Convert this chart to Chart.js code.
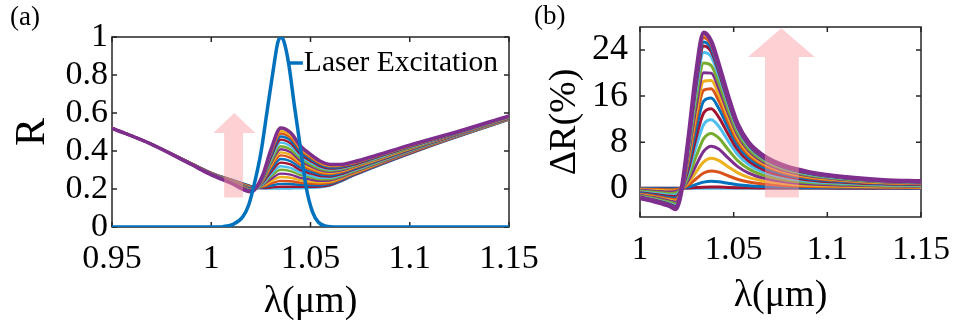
<!DOCTYPE html>
<html>
<head>
<meta charset="utf-8">
<script src="https://cdn.jsdelivr.net/npm/chart.js@4.4.1/dist/chart.umd.min.js"></script>
<style>
  html, body { margin: 0; padding: 0; background: #fff; }
  body { width: 956px; height: 327px; position: relative; overflow: hidden; font-family: 'Liberation Serif', 'Times New Roman', serif; }
  #chartA { position: absolute; left: 0; top: 0; }
  #chartB { position: absolute; left: 530px; top: 0; }
  .tag { position: absolute; font-size: 27px; color: #000; line-height: 1; }
</style>
</head>
<body>
<canvas id="chartA" width="560" height="327"></canvas>
<canvas id="chartB" width="426" height="327"></canvas>
<div class="tag" style="left:10px; top:3px;">(a)</div>
<div class="tag" style="left:534px; top:2px;">(b)</div>
<script>
// --- Panel (a): reflectance spectra ---
const wlA = [0.95, 0.97, 0.99, 1.0, 1.01, 1.02, 1.0225, 1.026, 1.03, 1.035, 1.04, 1.045, 1.05, 1.055, 1.06, 1.065, 1.07, 1.08, 1.10, 1.12, 1.15];
const reflA = [
    [0.52,0.435,0.335,0.285,0.25,0.215,0.205,0.203,0.202,0.202,0.203,0.204,0.206,0.209,0.218,0.238,0.263,0.305,0.385,0.46,0.565],
    [0.52,0.435,0.335,0.285,0.249,0.214,0.205,0.205,0.208,0.212,0.212,0.211,0.211,0.213,0.221,0.241,0.265,0.307,0.386,0.461,0.566],
    [0.52,0.435,0.334,0.284,0.248,0.213,0.205,0.209,0.218,0.227,0.226,0.222,0.22,0.22,0.227,0.245,0.269,0.31,0.389,0.462,0.567],
    [0.52,0.435,0.334,0.284,0.247,0.211,0.205,0.212,0.228,0.243,0.241,0.233,0.229,0.227,0.232,0.25,0.273,0.313,0.391,0.464,0.568],
    [0.52,0.435,0.334,0.283,0.246,0.209,0.205,0.217,0.24,0.263,0.259,0.246,0.239,0.235,0.239,0.255,0.277,0.317,0.394,0.466,0.569],
    [0.52,0.435,0.333,0.283,0.245,0.208,0.205,0.221,0.252,0.281,0.276,0.259,0.25,0.243,0.246,0.261,0.282,0.32,0.396,0.467,0.57],
    [0.52,0.435,0.333,0.282,0.244,0.206,0.205,0.225,0.265,0.301,0.294,0.273,0.261,0.251,0.252,0.266,0.286,0.324,0.399,0.469,0.571],
    [0.52,0.435,0.333,0.281,0.243,0.204,0.205,0.229,0.276,0.32,0.311,0.286,0.271,0.259,0.259,0.272,0.291,0.328,0.402,0.471,0.572],
    [0.52,0.435,0.332,0.281,0.242,0.202,0.205,0.234,0.289,0.339,0.329,0.299,0.282,0.268,0.266,0.277,0.295,0.332,0.405,0.473,0.573],
    [0.52,0.435,0.332,0.28,0.24,0.201,0.205,0.238,0.301,0.358,0.346,0.312,0.292,0.276,0.272,0.283,0.3,0.335,0.407,0.474,0.575],
    [0.52,0.435,0.331,0.28,0.239,0.199,0.205,0.242,0.313,0.377,0.364,0.326,0.303,0.284,0.279,0.288,0.304,0.339,0.41,0.476,0.576],
    [0.52,0.435,0.331,0.279,0.238,0.197,0.205,0.246,0.323,0.393,0.379,0.337,0.311,0.291,0.284,0.293,0.308,0.342,0.412,0.478,0.577],
    [0.52,0.435,0.331,0.279,0.237,0.196,0.205,0.249,0.333,0.409,0.393,0.347,0.32,0.298,0.29,0.297,0.312,0.345,0.415,0.479,0.578],
    [0.52,0.435,0.33,0.278,0.236,0.194,0.205,0.253,0.343,0.425,0.408,0.359,0.329,0.305,0.296,0.302,0.315,0.348,0.417,0.481,0.579],
    [0.52,0.435,0.33,0.278,0.235,0.193,0.205,0.257,0.355,0.444,0.425,0.372,0.339,0.313,0.302,0.307,0.32,0.352,0.42,0.482,0.58],
    [0.52,0.435,0.33,0.277,0.234,0.191,0.205,0.261,0.365,0.46,0.44,0.383,0.348,0.319,0.307,0.312,0.323,0.355,0.422,0.484,0.581],
    [0.52,0.435,0.329,0.277,0.233,0.19,0.205,0.265,0.376,0.476,0.455,0.394,0.357,0.327,0.313,0.316,0.327,0.358,0.424,0.485,0.582],
    [0.52,0.435,0.329,0.276,0.232,0.188,0.205,0.268,0.386,0.492,0.469,0.405,0.366,0.333,0.319,0.321,0.331,0.361,0.426,0.487,0.583],
    [0.52,0.435,0.329,0.276,0.231,0.187,0.205,0.271,0.394,0.505,0.481,0.414,0.373,0.339,0.323,0.325,0.334,0.364,0.428,0.488,0.584],
    [0.52,0.435,0.329,0.275,0.231,0.186,0.205,0.275,0.404,0.521,0.496,0.425,0.382,0.346,0.329,0.329,0.338,0.367,0.431,0.489,0.585]
];
const laserWl = [0.95, 1.0, 1.006, 1.011, 1.016, 1.019, 1.022, 1.025, 1.028, 1.031, 1.0335, 1.035, 1.0365, 1.039, 1.042, 1.045, 1.048, 1.051, 1.054, 1.058, 1.062, 1.1, 1.15];
const laserI = [0, 0, 0.002, 0.014, 0.055, 0.12, 0.24, 0.39, 0.6, 0.81, 0.97, 1.0, 0.98, 0.86, 0.63, 0.41, 0.2, 0.08, 0.025, 0.004, 0, 0, 0];
const ticksAX = [0.95, 1, 1.05, 1.1, 1.15];
const ticksAY = [0, 0.2, 0.4, 0.6, 0.8, 1];

// --- Panel (b): differential reflectance (%) ---
const wlB = [1.0, 1.008, 1.016, 1.019, 1.0225, 1.026, 1.03, 1.034, 1.038, 1.042, 1.047, 1.052, 1.058, 1.066, 1.076, 1.09, 1.11, 1.13, 1.15];
const deltaB = [
    [0,0,0,0,0,0,0,0,0,0,0,0,0,0,0,0,0,0,0],
    [-0.01,-0.01,-0.02,-0.02,0,0.04,0.11,0.18,0.2,0.19,0.14,0.1,0.07,0.05,0.03,0.02,0.01,0.01,0.01],
    [-0.06,-0.08,-0.11,-0.1,0,0.24,0.66,1.06,1.2,1.12,0.86,0.62,0.43,0.29,0.19,0.12,0.08,0.06,0.05],
    [-0.15,-0.21,-0.27,-0.24,0,0.6,1.65,2.64,3.0,2.79,2.16,1.56,1.08,0.72,0.48,0.3,0.21,0.15,0.14],
    [-0.26,-0.36,-0.47,-0.42,0,1.04,2.86,4.58,5.2,4.84,3.74,2.7,1.87,1.25,0.83,0.52,0.36,0.26,0.23],
    [-0.37,-0.51,-0.66,-0.58,0,1.46,4.02,6.42,7.3,6.79,5.26,3.8,2.63,1.75,1.17,0.73,0.51,0.37,0.33],
    [-0.5,-0.69,-0.9,-0.84,0.02,2.11,5.55,8.62,9.52,8.74,6.73,4.84,3.36,2.26,1.52,0.97,0.67,0.48,0.43],
    [-0.65,-0.9,-1.18,-1.16,0.04,2.89,7.34,11.08,11.89,10.77,8.25,5.91,4.11,2.78,1.89,1.22,0.85,0.61,0.54],
    [-0.78,-1.07,-1.41,-1.43,0.06,3.55,8.83,13.08,13.79,12.35,9.43,6.74,4.7,3.2,2.19,1.44,0.99,0.72,0.63],
    [-0.91,-1.25,-1.65,-1.71,0.09,4.27,10.38,15.13,15.65,13.89,10.57,7.53,5.26,3.6,2.48,1.64,1.13,0.82,0.72],
    [-1.03,-1.41,-1.88,-2.0,0.12,4.98,11.89,17.04,17.29,15.22,11.53,8.18,5.73,3.94,2.74,1.83,1.25,0.91,0.79],
    [-1.13,-1.55,-2.06,-2.22,0.14,5.52,13.07,18.59,18.69,16.35,12.37,8.76,6.14,4.24,2.95,1.99,1.36,1.0,0.86],
    [-1.23,-1.67,-2.24,-2.44,0.16,6.05,14.21,20.05,19.99,17.39,13.12,9.29,6.51,4.51,3.15,2.14,1.46,1.07,0.92],
    [-1.35,-1.83,-2.45,-2.73,0.2,6.78,15.65,21.76,21.3,18.35,13.78,9.72,6.82,4.77,3.35,2.3,1.56,1.16,0.98],
    [-1.47,-1.99,-2.67,-3.0,0.23,7.45,17.08,23.57,22.86,19.58,14.69,10.34,7.27,5.09,3.6,2.48,1.68,1.24,1.06],
    [-1.54,-2.09,-2.81,-3.19,0.25,7.93,18.03,24.7,23.75,20.23,15.15,10.64,7.5,5.25,3.73,2.59,1.75,1.3,1.1],
    [-1.59,-2.15,-2.9,-3.31,0.26,8.22,18.6,25.38,24.27,20.62,15.41,10.81,7.62,5.36,3.81,2.65,1.79,1.33,1.13],
    [-1.64,-2.22,-3.0,-3.44,0.28,8.54,19.26,26.17,24.88,21.08,15.73,11.02,7.78,5.48,3.91,2.73,1.84,1.36,1.16],
    [-1.68,-2.27,-3.07,-3.55,0.29,8.81,19.76,26.7,25.2,21.25,15.83,11.08,7.82,5.53,3.95,2.78,1.87,1.39,1.17],
    [-1.7,-2.3,-3.1,-3.6,0.3,8.9,20.0,27.0,25.5,21.5,16.0,11.2,7.9,5.6,4.0,2.8,1.9,1.4,1.2]
];
const ticksBX = [1, 1.05, 1.1, 1.15];
const ticksBY = [0, 8, 16, 24];

// pink "increasing power" arrows, in data units
const arrowA = { x0: 1.0065, x1: 1.0160, hx0: 1.0010, hx1: 1.0222, yTail: 0.155, yNeck: 0.495, yTip: 0.60 };
const arrowB = { x0: 1.0667, x1: 1.0848, hx0: 1.0576, hx1: 1.0933, yTail: -1.6, yNeck: 22.8, yTip: 27.8 };

// MATLAB default colour order
const colorOrder = ['#0072BD', '#D95319', '#EDB120', '#7E2F8E', '#77AC30', '#4DBEEE', '#A2142F'];
const serif = "'Liberation Serif', 'Times New Roman', serif";
const axisColor = '#262626';

Chart.defaults.font.family = serif;
Chart.defaults.color = '#000';

const fmt = v => String(+v.toFixed(2));

// --- plugins ---
const frameTicks = {
    id: 'frameTicks',
    beforeDatasetsDraw(chart) {
        const { ctx, chartArea: a, scales: { x, y } } = chart;
        ctx.save();
        ctx.strokeStyle = axisColor;
        ctx.lineWidth = 1.5;
        ctx.strokeRect(a.left, a.top, a.right - a.left, a.bottom - a.top);
        ctx.beginPath();
        x.ticks.forEach(t => {
            const px = x.getPixelForValue(t.value);
            ctx.moveTo(px, a.bottom); ctx.lineTo(px, a.bottom - 5);
            ctx.moveTo(px, a.top); ctx.lineTo(px, a.top + 5);
        });
        y.ticks.forEach(t => {
            const py = y.getPixelForValue(t.value);
            ctx.moveTo(a.left, py); ctx.lineTo(a.left + 5, py);
            ctx.moveTo(a.right, py); ctx.lineTo(a.right - 5, py);
        });
        ctx.stroke();
        ctx.restore();
    }
};

const pinkArrow = {
    id: 'pinkArrow',
    afterDatasetsDraw(chart, args, opts) {
        const ar = opts.arrow;
        if (!ar) return;
        const { ctx, scales: { x, y } } = chart;
        const X = v => x.getPixelForValue(v), Y = v => y.getPixelForValue(v);
        ctx.save();
        ctx.fillStyle = 'rgba(250, 150, 160, 0.45)';
        ctx.beginPath();
        ctx.moveTo(X(ar.x0), Y(ar.yTail));
        ctx.lineTo(X(ar.x0), Y(ar.yNeck));
        ctx.lineTo(X(ar.hx0), Y(ar.yNeck));
        ctx.lineTo(X((ar.hx0 + ar.hx1) / 2), Y(ar.yTip));
        ctx.lineTo(X(ar.hx1), Y(ar.yNeck));
        ctx.lineTo(X(ar.x1), Y(ar.yNeck));
        ctx.lineTo(X(ar.x1), Y(ar.yTail));
        ctx.closePath();
        ctx.fill();
        ctx.restore();
    }
};

const lineLegend = {
    id: 'lineLegend',
    afterDraw(chart, args, opts) {
        if (!opts.text) return;
        const { ctx, chartArea: a } = chart;
        ctx.save();
        ctx.font = `29.5px ${serif}`;
        const w = ctx.measureText(opts.text).width;
        const tx = a.right - 11 - w;
        const ty = a.top + 26;
        ctx.strokeStyle = opts.color;
        ctx.lineWidth = 3.5;
        ctx.beginPath();
        ctx.moveTo(tx - 14, ty);
        ctx.lineTo(tx - 1, ty);
        ctx.stroke();
        ctx.fillStyle = '#000';
        ctx.textBaseline = 'middle';
        ctx.fillText(opts.text, tx, ty);
        ctx.restore();
    }
};

function axis(min, max, ticks, tickSize, title, titleSize, fitKey, fitVal, tickPad, titlePad) {
    return {
        type: 'linear',
        min: min,
        max: max,
        afterBuildTicks: s => { s.ticks = ticks.map(v => ({ value: v })); },
        afterFit: s => {
            s[fitKey] = fitVal;
            // let tick labels overhang the plot box instead of shrinking it
            s.paddingLeft = 0; s.paddingRight = 0; s.paddingTop = 0; s.paddingBottom = 0;
        },
        grid: { display: false, drawTicks: false },
        border: { display: false },
        ticks: { font: { family: serif, size: tickSize }, color: '#000', padding: tickPad, maxRotation: 0, autoSkip: false, callback: v => fmt(v) },
        title: { display: true, text: title, font: { family: serif, size: titleSize }, color: '#000', padding: titlePad }
    };
}

function curveSets(xs, rows, thin, thick) {
    return rows.map((row, k) => ({
        data: xs.map((x, i) => ({ x: x, y: row[i] })),
        borderColor: colorOrder[(k + 5) % colorOrder.length],
        borderWidth: k === rows.length - 1 ? thick : thin,
        pointRadius: 0,
        cubicInterpolationMode: 'monotone',
        fill: false,
        order: rows.length - k + 1
    }));
}

// --- Chart (a) ---
const setsA = curveSets(wlA, reflA, 2.4, 3.6);
setsA.push({
    label: 'Laser Excitation',
    data: laserWl.map((x, i) => ({ x: x, y: laserI[i] })),
    borderColor: colorOrder[0],
    borderWidth: 3.5,
    pointRadius: 0,
    cubicInterpolationMode: 'monotone',
    fill: false,
    order: 0
});

new Chart(document.getElementById('chartA'), {
    type: 'line',
    data: { datasets: setsA },
    options: {
        responsive: false,
        animation: false,
        layout: { padding: { left: 0, right: 51, top: 37, bottom: 0 } },
        scales: {
            x: axis(0.95, 1.15, ticksAX, 34, 'λ(μm)', 38, 'height', 100, 12, { top: 0, bottom: 2 }),
            y: axis(0, 1, ticksAY, 34, 'R', 42, 'width', 112, 4, { top: 8, bottom: 0 })
        },
        plugins: {
            legend: { display: false },
            tooltip: { enabled: false },
            pinkArrow: { arrow: arrowA },
            lineLegend: { text: 'Laser Excitation', color: colorOrder[0] }
        }
    },
    plugins: [frameTicks, pinkArrow, lineLegend]
});

// --- Chart (b) ---
new Chart(document.getElementById('chartB'), {
    type: 'line',
    data: { datasets: curveSets(wlB, deltaB, 3, 4.5) },
    options: {
        responsive: false,
        animation: false,
        layout: { padding: { left: 0, right: 35, top: 27, bottom: 0 } },
        scales: {
            x: axis(1, 1.15, ticksBX, 33, 'λ(μm)', 38, 'height', 110, 14, { top: 0, bottom: 8 }),
            y: axis(-5, 28, ticksBY, 36, 'ΔR(%)', 38, 'width', 110, 12, { top: 12, bottom: 0 })
        },
        plugins: {
            legend: { display: false },
            tooltip: { enabled: false },
            pinkArrow: { arrow: arrowB },
            lineLegend: {}
        }
    },
    plugins: [frameTicks, pinkArrow, lineLegend]
});
</script>
</body>
</html>
